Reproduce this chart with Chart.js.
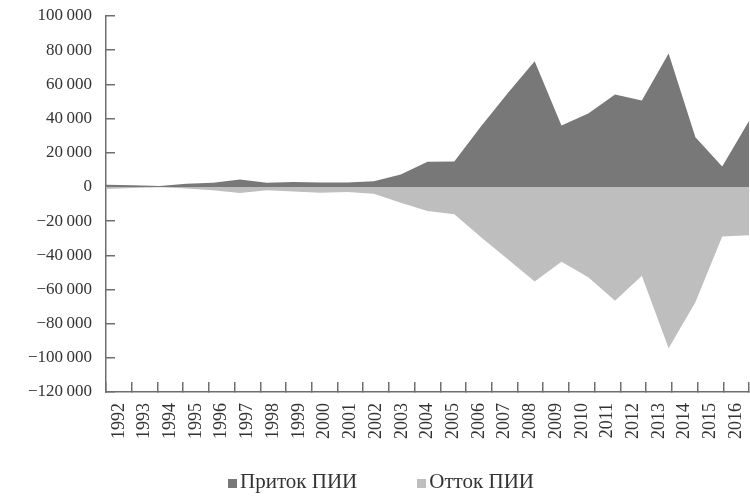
<!DOCTYPE html>
<html lang="ru">
<head>
<meta charset="utf-8">
<script src="https://cdn.jsdelivr.net/npm/chart.js@4/dist/chart.umd.min.js"></script>
<style>
    html, body { margin: 0; padding: 0; background: #fff; }
    #wrap { position: relative; width: 750px; height: 496px; }
    #fdiChart { position: absolute; left: 0; top: 0; }
    #fdiLegend {
        position: absolute; left: 12px; right: 0; top: 469px;
        text-align: center; font: 21px "Liberation Serif", serif; color: #333;
    }
    #fdiLegend span.item { margin: 0 30px; white-space: nowrap; }
    #fdiLegend span.box { display: inline-block; width: 9px; height: 9px; margin-right: 3px; }
</style>
</head>
<body>
<div id="wrap">
    <canvas id="fdiChart" width="750" height="496"></canvas>
    <div id="fdiLegend"></div>
</div>
<script>
const years = ['1992', '1993', '1994', '1995', '1996', '1997', '1998', '1999', '2000', '2001', '2002', '2003',
    '2004', '2005', '2006', '2007', '2008', '2009', '2010', '2011', '2012', '2013', '2014', '2015', '2016'];
const inflow = [1200, 1000, 600, 1800, 2400, 4300, 2500, 2900, 2600, 2600, 3300, 7300,
    14700, 14800, 35500, 55000, 73500, 36000, 43000, 54000, 50600, 78000, 29000, 12000, 38500];
const outflow = [-1200, -600, -200, -1000, -1900, -3600, -2000, -2700, -3400, -3000, -4000, -9200,
    -14100, -16000, -29500, -42300, -55300, -43800, -52900, -66600, -52000, -94400, -67500, -29000, -28300];
const seriesNames = ['Приток ПИИ', 'Отток ПИИ'];
const seriesColors = ['#787878', '#bebebe'];
const yTicks = { min: -120000, max: 100000, step: 20000 };

document.addEventListener('DOMContentLoaded', function () {
    const axisColor = '#6e6e6e';
    const textColor = '#333';

    function formatNum(v) {
        const s = String(Math.abs(v)).replace(/\B(?=(\d{3})+(?!\d))/g, '\u2009');
        return v < 0 ? '\u2212' + s : s;
    }

    const ctx = document.getElementById('fdiChart').getContext('2d');
    const fdiChart = new Chart(ctx, {
        type: 'line',
        data: {
            labels: years,
            datasets: [inflow, outflow].map((data, i) => ({
                label: seriesNames[i],
                data: data,
                backgroundColor: seriesColors[i],
                borderWidth: 0,
                pointRadius: 0,
                fill: 'origin',
                tension: 0
            }))
        },
        options: {
            responsive: false,
            animation: false,
            layout: { padding: { top: 0, right: 1, left: 0, bottom: 0 } },
            plugins: {
                legend: { display: false },
                tooltip: { enabled: false }
            },
            scales: {
                x: { type: 'category', display: false, offset: false },
                x2: {
                    type: 'category',
                    position: 'bottom',
                    labels: years,
                    offset: true,
                    border: { color: axisColor, width: 1.5 },
                    grid: { offset: true, drawOnChartArea: false, tickLength: -10, color: axisColor, lineWidth: 1.5 },
                    ticks: {
                        autoSkip: false, minRotation: 90, maxRotation: 90, padding: 21,
                        color: textColor, font: { family: '"Liberation Serif", serif', size: 18 }
                    },
                    afterFit: function (scale) {
                        scale.height = 104;
                        scale.paddingLeft = 0;
                        scale.paddingRight = 0;
                    }
                },
                y: {
                    min: yTicks.min,
                    max: yTicks.max,
                    border: { color: axisColor, width: 1.5 },
                    grid: { drawOnChartArea: false, tickLength: -9, color: axisColor, lineWidth: 1.5 },
                    ticks: {
                        stepSize: yTicks.step, padding: 23, color: textColor,
                        font: { family: '"Liberation Serif", serif', size: 17 },
                        callback: (v) => formatNum(v)
                    },
                    afterFit: function (scale) {
                        scale.width = 106;
                        scale.paddingTop = 16;
                        scale.paddingBottom = 0;
                    }
                }
            }
        }
    });

    // legend in html, like the hour labels in the dashboard
    document.getElementById('fdiLegend').innerHTML = fdiChart.data.datasets.map((ds) =>
        `<span class="item"><span class="box" style="background: ${ds.backgroundColor};"></span>${ds.label}</span>`
    ).join('');
});
</script>
</body>
</html>
